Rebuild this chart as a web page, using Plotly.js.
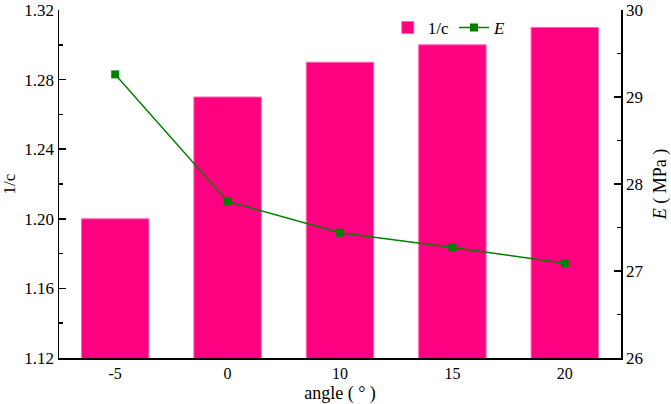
<!DOCTYPE html>
<html>
<head>
<meta charset="utf-8">
<script src="https://cdn.plot.ly/plotly-3.0.1.min.js"></script>
<style>html,body{margin:0;padding:0;background:#fff;}#chart{width:671px;height:404px;}</style>
</head>
<body>
<div id="chart"></div>
<script>
var categories = ['-5', '0', '10', '15', '20'];
var invC = [1.20, 1.27, 1.29, 1.30, 1.31];
var modulusE = [29.26, 27.80, 27.44, 27.27, 27.09];

var fam = 'Liberation Serif, Times New Roman, DejaVu Serif, serif';
var font = {family: fam, size: 17, color: '#000'};
function f(s) { return {family: fam, size: s, color: '#000'}; }

var traces = [
  {
    type: 'bar', name: '1/c', x: categories, y: invC,
    marker: {color: '#FF0080', line: {color: '#FF66B3', width: 1}},
    yaxis: 'y'
  },
  {
    type: 'scatter', mode: 'lines+markers', name: '<i>E</i>', x: categories, y: modulusE,
    line: {color: '#008000', width: 1.5},
    marker: {color: '#008000', symbol: 'square', size: 8},
    yaxis: 'y2'
  }
];

var layout = {
  width: 671, height: 404,
  margin: {l: 59, r: 50, t: 10, b: 46},
  paper_bgcolor: '#fff', plot_bgcolor: '#fff',
  font: font,
  bargap: 0.4,
  showlegend: true,
  legend: {orientation: 'h', x: 0.585, y: 1.0, xanchor: 'left', yanchor: 'top',
           bgcolor: 'rgba(0,0,0,0)', font: f(17), traceorder: 'normal'},
  xaxis: {
    type: 'category', range: [-0.5, 4.5],
    showline: true, linecolor: '#000', linewidth: 1.5,
    ticks: '', showgrid: false, zeroline: false,
    tickfont: f(16),
    title: {text: 'angle ( ° )', font: f(18), standoff: 5}
  },
  yaxis: {
    range: [1.12, 1.32001], dtick: 0.04, tick0: 1.12, tickformat: '.2f',
    ticklabeloverflow: 'allow',
    showline: true, linecolor: '#000', linewidth: 1.5,
    ticks: 'inside', ticklen: 7, tickwidth: 1.5, tickcolor: '#000',
    minor: {ticks: 'inside', dtick: 0.02, ticklen: 4, tickwidth: 1.5, tickcolor: '#000'},
    showgrid: false, zeroline: false,
    tickfont: f(17),
    title: {text: '1/c', font: f(17), standoff: 8}
  },
  yaxis2: {
    overlaying: 'y', side: 'right',
    range: [26, 30.0001], dtick: 1, tick0: 26,
    ticklabeloverflow: 'allow',
    showline: true, linecolor: '#000', linewidth: 1.5,
    ticks: 'inside', ticklen: 7, tickwidth: 1.5, tickcolor: '#000',
    minor: {ticks: 'inside', dtick: 0.5, ticklen: 4, tickwidth: 1.5, tickcolor: '#000'},
    showgrid: false, zeroline: false,
    tickfont: f(17),
    title: {text: '<i>E</i> ( MPa )', font: f(18), standoff: 12}
  }
};

Plotly.newPlot('chart', traces, layout, {displayModeBar: false, staticPlot: true});
</script>
</body>
</html>
